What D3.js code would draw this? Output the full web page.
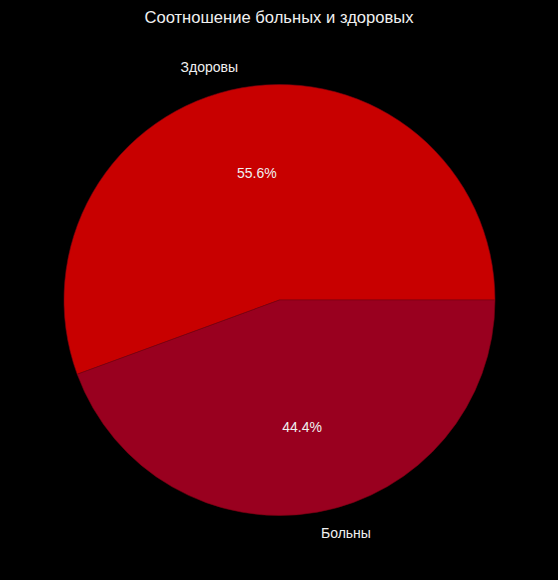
<!DOCTYPE html>
<html><head><meta charset="utf-8">
<script src="https://cdn.jsdelivr.net/npm/d3@7"></script>
<style>html,body{margin:0;padding:0;background:#000;}</style>
</head><body>
<script>
const categories = ["Здоровы", "Больны"];
const values = [55.6, 44.4];
const colors = ["#c80000", "#99001f"];
const title = "Соотношение больных и здоровых";

const W = 558, H = 580, cx = 279.5, cy = 300, R = 215.5;
const svg = d3.select("body").append("svg").attr("width", W).attr("height", H)
  .style("background", "#000").style("font-family", "'Liberation Sans', Arial, sans-serif");

svg.append("text").attr("x", W/2).attr("y", 23).attr("text-anchor", "middle")
  .attr("fill", "#f0f0f0").attr("font-size", 16.6).text(title);

// matplotlib-style: start at 3 o'clock, counterclockwise
const total = d3.sum(values);
const angScale = d3.scaleLinear().domain([0, total]).range([0, 2*Math.PI]);
let acc = 0;
const slices = values.map((v, i) => {
  const a0 = angScale(acc); acc += v; const a1 = angScale(acc);
  return {i, v, a0, a1};
});
const arc = d3.arc().innerRadius(0).outerRadius(R);
const g = svg.append("g").attr("transform", `translate(${cx},${cy})`);
g.selectAll("path").data(slices).join("path")
  .attr("d", d => arc({startAngle: Math.PI/2 - d.a1, endAngle: Math.PI/2 - d.a0}))
  .attr("fill", d => colors[d.i])
  .attr("stroke", "#7a0010").attr("stroke-width", 0.6);

slices.forEach(d => {
  const m = (d.a0 + d.a1) / 2;
  const lx = 1.1 * R * Math.cos(m), ly = -1.1 * R * Math.sin(m);
  g.append("text").attr("x", lx).attr("y", ly).attr("dy", "0.35em")
    .attr("text-anchor", lx > 0 ? "start" : "end")
    .attr("fill", "#f0f0f0").attr("font-size", 14).text(categories[d.i]);
  const px = 0.6 * R * Math.cos(m), py = -0.6 * R * Math.sin(m);
  g.append("text").attr("x", px).attr("y", py).attr("dy", "0.35em")
    .attr("text-anchor", "middle")
    .attr("fill", "#f0f0f0").attr("font-size", 14)
    .text((d.v / total * 100).toFixed(1) + "%");
});
</script>
</body></html>
